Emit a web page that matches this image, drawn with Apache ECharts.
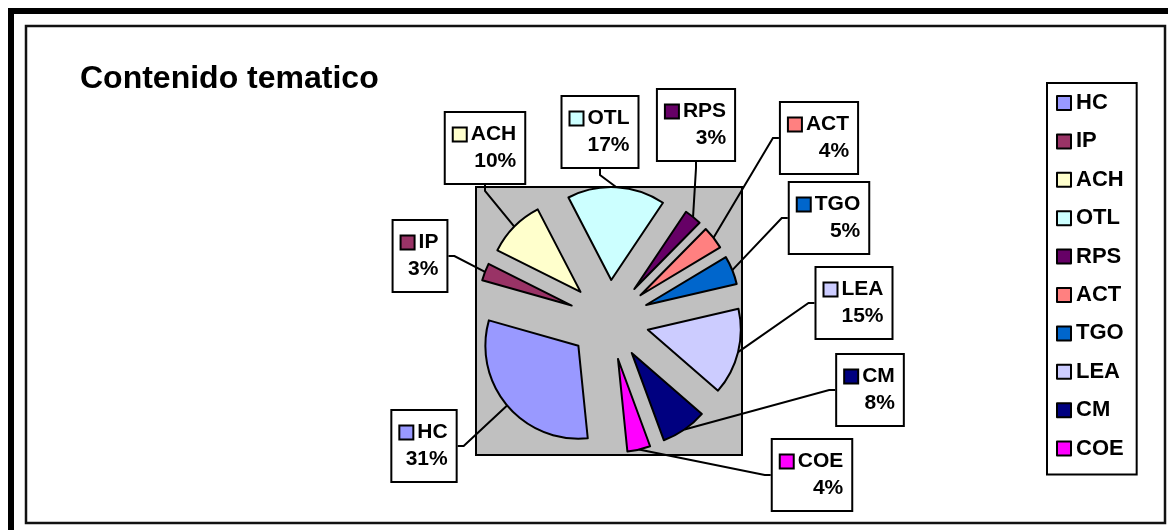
<!DOCTYPE html>
<html>
<head>
<meta charset="utf-8">
<script src="https://cdn.jsdelivr.net/npm/echarts@6/dist/echarts.min.js"></script>
<style>
  html, body { margin: 0; padding: 0; background: #fff; }
  #chart { width: 1168px; height: 530px; }
</style>
</head>
<body>
<div id="chart"></div>
<script>
const categories = ['HC', 'IP', 'ACH', 'OTL', 'RPS', 'ACT', 'TGO', 'LEA', 'CM', 'COE']
const values = [31, 3, 10, 17, 3, 4, 5, 15, 8, 4]
const colors = ['#9999FF', '#993366', '#FFFFCC', '#CCFFFF', '#660066', '#FF8080', '#0066CC', '#CCCCFF', '#000080', '#FF00FF']

// 标签框中心相对饼图中心的偏移（仿 Excel 的自动标签位置）
const labelOffset = [[-185, 126], [-189, -64], [-124, -172], [-9, -188], [87, -195], [210, -182], [220, -102], [245, -17], [261, 70], [203, 155]]

const FONT = 'Liberation Sans, Arial, sans-serif'
const center = [609, 320]
const radius = 93
const explode = 40
const startAngle = -84.2

const chart = echarts.init(document.getElementById('chart'))

// 每个色块用一个 rich 样式
const rich = {
  nm: { fontSize: 21, fontWeight: 'bold', fontFamily: FONT, color: '#000', padding: [0, 0, 0, 5] },
  pc: { fontSize: 21, fontWeight: 'bold', fontFamily: FONT, color: '#000', align: 'right' },
}
colors.forEach((c, i) => {
  rich['sq' + i] = { width: 12, height: 12, backgroundColor: c, borderColor: '#000', borderWidth: 2 }
})

const half = radius + explode
const total = values.reduce((a, b) => a + b, 0)

// 分离饼图：每个扇区一个 series，只显示自己的那一块，中心沿中线方向外移
const series = categories.map((name, i) => {
  const before = values.slice(0, i).reduce((a, b) => a + b, 0)
  const mid = ((startAngle - ((before + values[i] / 2) / total) * 360) * Math.PI) / 180
  const c = [center[0] + Math.cos(mid) * explode, center[1] - Math.sin(mid) * explode]
  return {
    type: 'pie',
    center: c,
    radius: radius,
    startAngle: startAngle,
    clockwise: true,
    avoidLabelOverlap: false,
    silent: true,
    itemStyle: { borderColor: '#000', borderWidth: 2 },
    label: {
      show: true,
      position: 'outside',
      formatter: (p) => `{sq${p.dataIndex}|}{nm|${p.name}}\n{pc|${Math.round(p.percent)}%}`,
      rich: rich,
      lineHeight: 27,
      backgroundColor: '#fff',
      borderColor: '#000',
      borderWidth: 2,
      padding: [8, 8, 8, 8],
    },
    labelLine: {
      show: true,
      length: 20,
      length2: 6,
      lineStyle: { color: '#000', width: 2 },
    },
    labelLayout: (params) => {
      const off = labelOffset[params.dataIndex]
      return { x: center[0] + off[0], y: center[1] + off[1], align: 'center', verticalAlign: 'middle' }
    },
    data: categories.map((n, j) =>
      j === i
        ? { name: n, value: values[j] }
        : {
            name: n,
            value: values[j],
            itemStyle: { opacity: 0, borderWidth: 0 },
            label: { show: false },
            labelLine: { show: false },
          }
    ),
  }
})

const option = {
  animation: false,
  color: colors,
  title: {
    text: 'Contenido tematico',
    left: 80,
    top: 63,
    padding: 0,
    textStyle: { fontFamily: FONT, fontSize: 32, fontWeight: 'bold', color: '#000' },
  },
  legend: {
    orient: 'vertical',
    left: 1047,
    top: 83,
    padding: [8, 13, 14, 9],
    borderColor: '#000',
    borderWidth: 2,
    itemWidth: 14,
    itemHeight: 14,
    itemGap: 14.4,
    icon: 'rect',
    selectedMode: false,
    textStyle: { fontFamily: FONT, fontSize: 22, fontWeight: 'bold', color: '#000', lineHeight: 24 },
    data: categories.map((name, i) => ({
      name,
      itemStyle: { color: colors[i], opacity: 1, borderColor: '#000', borderWidth: 2 },
    })),
  },
  graphic: [
    // 外框
    { type: 'rect', shape: { x: 11, y: 11, width: 1200, height: 600 }, style: { fill: null, stroke: '#000', lineWidth: 6 } },
    { type: 'rect', shape: { x: 26, y: 26, width: 1139, height: 497 }, style: { fill: null, stroke: '#111', lineWidth: 2.5 } },
    // 灰色绘图区
    {
      type: 'rect',
      z: -1,
      shape: { x: center[0] - half, y: center[1] - half, width: half * 2, height: half * 2 + 2 },
      style: { fill: '#C0C0C0', stroke: '#000', lineWidth: 2 },
    },
  ],
  series: series,
}

chart.setOption(option)
</script>
</body>
</html>
